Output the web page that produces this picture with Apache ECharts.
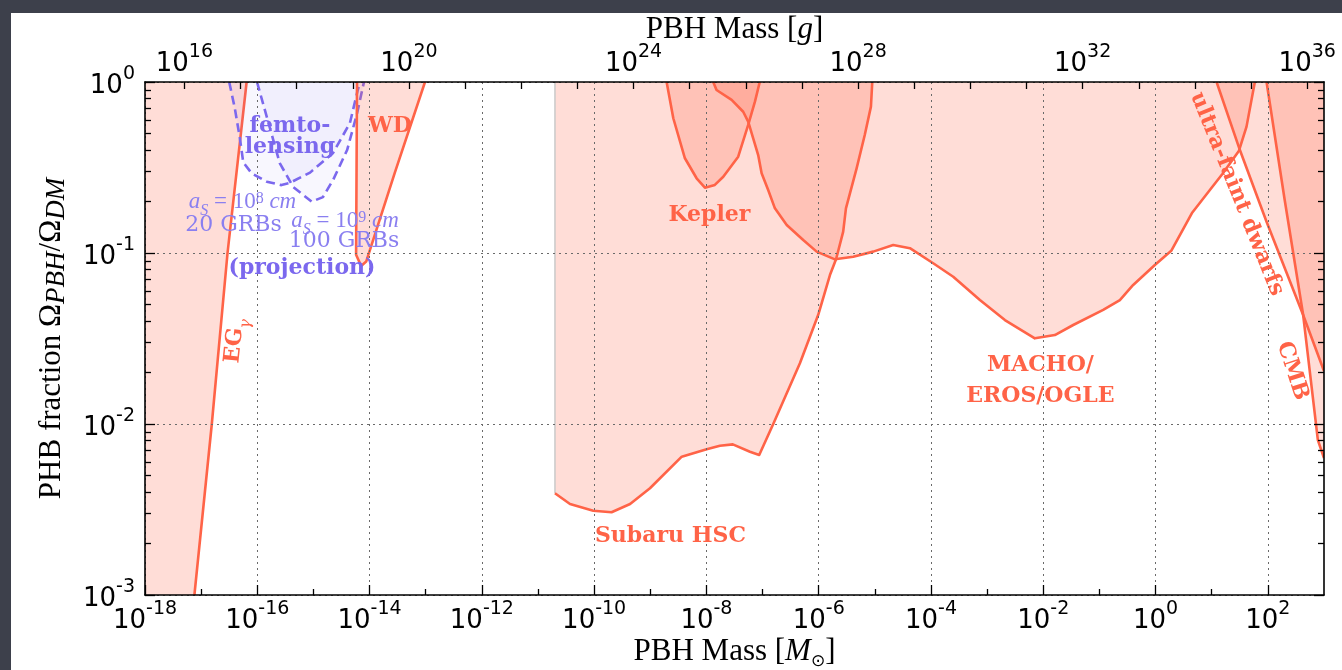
<!DOCTYPE html>
<html>
<head>
<meta charset="utf-8">
<script src="https://cdn.jsdelivr.net/npm/echarts@6/dist/echarts.min.js"></script>
<style>
  html, body { margin: 0; padding: 0; width: 1342px; height: 670px; overflow: hidden; background: #3d404b; }
  #chart { position: absolute; left: 11px; top: 13px; width: 1331px; height: 657px; background: #fff; }
</style>
</head>
<body>
<div id="chart"></div>
<script>
// All values are log10: mass in solar masses (M) and the PBH dark-matter fraction (F).
const X_MIN = -18, X_MAX = 3;
const Y_MIN = -3, Y_MAX = 0;
const LOG_MSUN_IN_G = 33.2986;

// Axis ticks
const X_TICKS_MAJOR = [-18, -16, -14, -12, -10, -8, -6, -4, -2, 0, 2];
const X_TICKS_MINOR = [-17, -15, -13, -11, -9, -7, -5, -3, -1, 1];
const Y_DECADES = [-3, -2, -1, 0];
const G_TICKS = [16, 17, 18, 19, 20, 21, 22, 23, 24, 25, 26, 27, 28, 29, 30, 31, 32, 33, 34, 35, 36];
const G_LABELS = [16, 20, 24, 28, 32, 36];

// Extragalactic gamma rays
const EG_M = [-17.12, -16.81, -16.53, -16.19];
const EG_F = [-3, -2, -1, 0];

// White dwarfs
const WD_M = [-14.224, -14.23, -14.24, -14.15, -14.06, -13.55, -13.013];
const WD_F = [0, -0.40, -1.01, -1.076, -1.05, -0.53, 0];

// Femtolensing projections
const FEMTO8_M = [-16.50, -16.40, -16.31, -16.25, -16.10, -15.83, -15.57, -15.42, -15.06, -14.65, -14.35, -14.21, -14.17];
const FEMTO8_F = [0, -0.154, -0.329, -0.47, -0.534, -0.583, -0.603, -0.59, -0.53, -0.415, -0.24, -0.047, 0];
const FEMTO9_M = [-16.005, -15.83, -15.60, -15.36, -15.03, -14.83, -14.65, -14.40, -14.22, -14.12, -14.10];
const FEMTO9_F = [0, -0.205, -0.474, -0.614, -0.70, -0.673, -0.573, -0.398, -0.18, -0.03, 0];

// Subaru HSC microlensing
const SUBARU_M = [-10.698, -10.43, -10.016, -9.69, -9.36, -9.006, -8.44, -7.996, -7.76, -7.53, -7.225, -7.06, -6.81, -6.335, -6.01, -5.80, -5.69, -5.564, -5.515, -5.325, -5.18, -5.07, -5.046];
const SUBARU_F = [-2.405, -2.468, -2.507, -2.516, -2.468, -2.376, -2.191, -2.148, -2.127, -2.119, -2.162, -2.181, -2.0, -1.645, -1.363, -1.129, -1.035, -0.875, -0.739, -0.505, -0.31, -0.144, 0];

// Kepler
const KEPLER_M = [-8.709, -8.59, -8.383, -8.175, -8.027, -7.85, -7.70, -7.434, -7.256, -7.136, -7.05];
const KEPLER_F = [0, -0.212, -0.446, -0.563, -0.618, -0.602, -0.554, -0.437, -0.251, -0.115, 0];

// MACHO / EROS / OGLE
const MACHO_M = [-7.879, -7.82, -7.551, -7.345, -7.256, -7.167, -7.078, -7.017, -6.90, -6.78, -6.57, -6.276, -6.037, -5.711, -5.385, -5.029, -4.673, -4.376, -3.961, -3.604, -3.129, -2.684, -2.15, -1.794, -1.467, -0.933, -0.636, -0.399, -0.013, 0.284, 0.655, 0.967, 1.19, 1.483, 1.62, 1.768];
const MACHO_F = [0, -0.047, -0.105, -0.174, -0.232, -0.329, -0.427, -0.534, -0.632, -0.739, -0.836, -0.924, -0.992, -1.037, -1.022, -0.992, -0.953, -0.972, -1.060, -1.139, -1.275, -1.392, -1.499, -1.480, -1.421, -1.333, -1.275, -1.187, -1.070, -0.985, -0.763, -0.632, -0.538, -0.404, -0.261, 0];

// Ultra-faint dwarfs
const UFD_M = [1.087, 1.502, 1.977, 2.629, 3.0];
const UFD_F = [0, -0.398, -0.817, -1.363, -1.69];

// CMB accretion
const CMB_M = [1.977, 2.30, 2.629, 2.891, 3.0];
const CMB_F = [0, -0.69, -1.363, -2.094, -2.199];

// Region labels: text, position (log M, log F), rotation in degrees, style
const LABELS = [
  { text: '{a|EG}{g|γ}', m: -16.344, f: -1.515, rot: 84, kind: 'red' },
  { text: 'WD', m: -13.637, f: -0.257, rot: 0, kind: 'red' },
  { text: 'femto-\nlensing', m: -15.418, f: -0.322, rot: 0, kind: 'purpleBold' },
  { text: '{i|a}{sub|S}{r| = 10}{sup|8}{i| cm}', m: -16.264, f: -0.716, rot: 0, kind: 'math' },
  { text: '20 GRBs', m: -16.424, f: -0.836, rot: 0, kind: 'purple' },
  { text: '{i|a}{sub|S}{r| = 10}{sup|9}{i| cm}', m: -14.438, f: -0.827, rot: 0, kind: 'math' },
  { text: '100 GRBs', m: -14.456, f: -0.933, rot: 0, kind: 'purple' },
  { text: '(projection)', m: -15.204, f: -1.088, rot: 0, kind: 'purpleBold' },
  { text: 'Kepler', m: -7.947, f: -0.778, rot: 0, kind: 'red' },
  { text: 'Subaru HSC', m: -8.641, f: -2.655, rot: 0, kind: 'red' },
  { text: 'MACHO/\nEROS/OGLE', m: -2.052, f: -1.749, rot: 0, kind: 'red' },
  { text: 'ultra-faint dwarfs', m: 1.448, f: -0.655, rot: -68, kind: 'red' },
  { text: 'CMB', m: 2.436, f: -1.69, rot: -72, kind: 'red' }
];

const RED = '#ff6347';
const RED_FILL = 'rgba(255, 99, 71, 0.22)';
const PURPLE = '#7b68ee';
const PURPLE_FILL = 'rgba(123, 104, 238, 0.055)';

const zip = (ms, fs) => ms.map((m, i) => [m, fs[i]]);

function regionSeries(name, ms, fs, opts) {
  const pts = zip(ms, fs);
  const pre = opts.pre || [];
  const post = opts.post || [];
  return {
    type: 'custom',
    name: name,
    coordinateSystem: 'cartesian2d',
    xAxisIndex: 0,
    yAxisIndex: 0,
    clip: true,
    silent: true,
    z: opts.z || 2,
    data: pts,
    renderItem: function (params, api) {
      if (params.dataIndex !== 0) return null;
      const linePts = pts.map(p => api.coord(p));
      const fillPts = pre.concat(pts, post).map(p => api.coord(p));
      const children = [
        { type: 'polygon', shape: { points: fillPts }, style: { fill: opts.fill, stroke: 'none' } }
      ];
      if (opts.edge) {
        children.push({
          type: 'line',
          shape: { x1: fillPts[0][0], y1: fillPts[0][1], x2: linePts[0][0], y2: linePts[0][1] },
          style: { stroke: opts.edge, lineWidth: 1.5 }
        });
      }
      children.push({
        type: 'polyline',
        shape: { points: linePts },
        style: { stroke: opts.stroke, lineWidth: 2.6, fill: 'none', lineDash: opts.dash || null, lineJoin: 'round' }
      });
      return { type: 'group', children: children };
    }
  };
}

const LABEL_STYLES = {
  red: {
    fill: RED, fontFamily: 'DejaVu Serif', fontWeight: 'bold', fontSize: 22,
    rich: {
      a: { fill: RED, fontFamily: 'DejaVu Serif', fontWeight: 'bold', fontSize: 22, lineHeight: 28, verticalAlign: 'top' },
      g: { fill: RED, fontFamily: 'DejaVu Serif', fontStyle: 'italic', fontSize: 16, lineHeight: 16, verticalAlign: 'bottom' }
    },
    lineHeight: 31
  },
  purpleBold: { fill: PURPLE, fontFamily: 'DejaVu Serif', fontWeight: 'bold', fontSize: 22, lineHeight: 21 },
  purple: { fill: '#8a7ff0', fontFamily: 'DejaVu Serif', fontSize: 22, lineHeight: 24 },
  math: {
    fill: '#8a7ff0', fontFamily: 'Liberation Serif', fontSize: 23,
    rich: {
      i: { fill: '#8a7ff0', fontFamily: 'Liberation Serif', fontStyle: 'italic', fontSize: 23, lineHeight: 28, verticalAlign: 'top' },
      r: { fill: '#8a7ff0', fontFamily: 'Liberation Serif', fontSize: 23, lineHeight: 28, verticalAlign: 'top' },
      sub: { fill: '#8a7ff0', fontFamily: 'Liberation Serif', fontStyle: 'italic', fontSize: 16, lineHeight: 16, verticalAlign: 'bottom' },
      sup: { fill: '#8a7ff0', fontFamily: 'Liberation Serif', fontSize: 16, lineHeight: 14, verticalAlign: 'top' }
    }
  }
};

const labelSeries = {
  type: 'custom',
  name: 'labels',
  coordinateSystem: 'cartesian2d',
  xAxisIndex: 0,
  yAxisIndex: 0,
  silent: true,
  z: 8,
  data: LABELS.map(l => [l.m, l.f]),
  renderItem: function (params, api) {
    const l = LABELS[params.dataIndex];
    const p = api.coord([l.m, l.f]);
    const style = Object.assign({}, LABEL_STYLES[l.kind], { text: l.text, align: 'center', verticalAlign: 'middle' });
    return { type: 'text', x: p[0], y: p[1], rotation: l.rot * Math.PI / 180, style: style };
  }
};

const tickRich = {
  b: { fontFamily: 'DejaVu Sans', fontSize: 26, color: '#000', lineHeight: 34, verticalAlign: 'bottom' },
  s: { fontFamily: 'DejaVu Sans', fontSize: 19, color: '#000', lineHeight: 14, verticalAlign: 'top' }
};
const powerLabel = v => '{b|10}{s|' + v + '}';

const frameLine = { show: true, onZero: false, lineStyle: { color: '#000', width: 1.6 } };
const noLine = { show: false, onZero: false };
const gridDots = { show: true, lineStyle: { color: '#6a6a6a', width: 1, type: [2, 4] } };
const tickStyle = { color: '#000', width: 1.3 };

const serifName = {
  fontFamily: 'Liberation Serif', fontSize: 31, color: '#000', lineHeight: 36,
  rich: {
    i: { fontFamily: 'Liberation Serif', fontStyle: 'italic', fontSize: 31, color: '#000', lineHeight: 36 },
    sun: { fontFamily: 'DejaVu Sans', fontSize: 17, color: '#000', lineHeight: 20, verticalAlign: 'bottom' }
  }
};
const fractionName = {
  fontFamily: 'Liberation Serif', fontSize: 31, color: '#000', lineHeight: 36,
  rich: {
    o: { fontFamily: 'Liberation Serif', fontSize: 31, color: '#000', lineHeight: 36 },
    sub: { fontFamily: 'Liberation Serif', fontStyle: 'italic', fontSize: 27, color: '#000', lineHeight: 26, verticalAlign: 'bottom' }
  }
};

const minorY = [];
Y_DECADES.slice(0, -1).forEach(d => {
  for (let k = 2; k <= 9; k++) minorY.push(d + Math.log10(k));
});

const option = {
  animation: false,
  backgroundColor: '#fff',
  grid: { left: 134, top: 69, right: 18, bottom: 75, containLabel: false, outerBoundsMode: 'none' },
  xAxis: [
    {
      type: 'value', position: 'bottom', min: X_MIN, max: X_MAX, interval: 2, z: 6,
      axisLine: frameLine,
      axisTick: { show: true, inside: true, length: 10, lineStyle: tickStyle, customValues: X_TICKS_MAJOR },
      axisLabel: { show: true, margin: 5, customValues: X_TICKS_MAJOR, formatter: powerLabel, rich: tickRich },
      splitLine: gridDots,
      name: 'PBH Mass [{i|M}{sun|⊙}]', nameLocation: 'middle', nameGap: 39, nameMoveOverlap: false,
      nameTextStyle: serifName
    },
    {
      type: 'value', position: 'bottom', min: X_MIN, max: X_MAX, z: 6,
      axisLine: noLine,
      axisTick: { show: true, inside: true, length: 6, lineStyle: tickStyle, customValues: X_TICKS_MINOR },
      axisLabel: { show: false },
      splitLine: { show: false }
    },
    {
      type: 'value', position: 'top', min: X_MIN + LOG_MSUN_IN_G, max: X_MAX + LOG_MSUN_IN_G, z: 6,
      axisLine: frameLine,
      axisTick: { show: true, inside: true, length: 7, lineStyle: tickStyle, customValues: G_TICKS },
      axisLabel: { show: true, margin: 5, customValues: G_LABELS, formatter: powerLabel, rich: tickRich },
      splitLine: { show: false },
      name: 'PBH Mass [{i|g}]', nameLocation: 'middle', nameGap: 34, nameMoveOverlap: false,
      nameTextStyle: serifName
    }
  ],
  yAxis: [
    {
      type: 'value', position: 'left', min: Y_MIN, max: Y_MAX, interval: 1, z: 6,
      axisLine: frameLine,
      axisTick: { show: true, inside: true, length: 10, lineStyle: tickStyle },
      axisLabel: { show: true, margin: 10, formatter: powerLabel, rich: tickRich },
      splitLine: gridDots,
      name: 'PHB fraction {o|Ω}{sub|PBH}{o|/Ω}{sub|DM}', nameLocation: 'middle', nameRotate: 90, nameGap: 75,
      nameMoveOverlap: false, nameTextStyle: fractionName
    },
    {
      type: 'value', position: 'left', min: Y_MIN, max: Y_MAX, z: 6,
      axisLine: noLine,
      axisTick: { show: true, inside: true, length: 6, lineStyle: tickStyle, customValues: minorY },
      axisLabel: { show: false },
      splitLine: { show: false }
    },
    {
      type: 'value', position: 'right', min: Y_MIN, max: Y_MAX, interval: 1, z: 6,
      axisLine: frameLine,
      axisTick: { show: true, inside: true, length: 10, lineStyle: tickStyle },
      axisLabel: { show: false },
      splitLine: { show: false }
    },
    {
      type: 'value', position: 'right', min: Y_MIN, max: Y_MAX, z: 6,
      axisLine: noLine,
      axisTick: { show: true, inside: true, length: 6, lineStyle: tickStyle, customValues: minorY },
      axisLabel: { show: false },
      splitLine: { show: false }
    }
  ],
  series: [
    regionSeries('EGγ', EG_M, EG_F, { fill: RED_FILL, stroke: RED, pre: [[X_MIN, Y_MAX], [X_MIN, Y_MIN]] }),
    regionSeries('femtolensing 1e8 cm', FEMTO8_M, FEMTO8_F, { fill: PURPLE_FILL, stroke: PURPLE, dash: [9, 5] }),
    regionSeries('femtolensing 1e9 cm', FEMTO9_M, FEMTO9_F, { fill: PURPLE_FILL, stroke: PURPLE, dash: [9, 5] }),
    regionSeries('WD', WD_M, WD_F, { fill: RED_FILL, stroke: RED }),
    regionSeries('Subaru HSC', SUBARU_M, SUBARU_F, { fill: RED_FILL, stroke: RED, pre: [[SUBARU_M[0], Y_MAX]], edge: '#c9c9c9' }),
    regionSeries('Kepler', KEPLER_M, KEPLER_F, { fill: RED_FILL, stroke: RED }),
    regionSeries('MACHO/EROS/OGLE', MACHO_M, MACHO_F, { fill: RED_FILL, stroke: RED }),
    regionSeries('ultra-faint dwarfs', UFD_M, UFD_F, { fill: RED_FILL, stroke: RED, post: [[X_MAX, Y_MAX]] }),
    regionSeries('CMB', CMB_M, CMB_F, { fill: RED_FILL, stroke: RED, post: [[X_MAX, Y_MAX]] }),
    labelSeries
  ]
};

const chart = echarts.init(document.getElementById('chart'), null, { renderer: 'canvas' });
chart.setOption(option);
</script>
</body>
</html>
